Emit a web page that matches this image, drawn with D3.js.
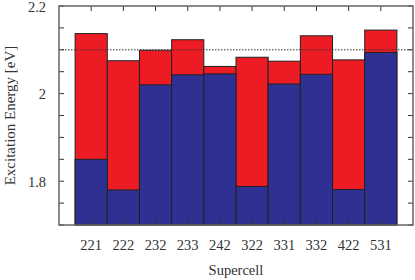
<!DOCTYPE html>
<html>
<head>
<meta charset="utf-8">
<script src="https://cdn.jsdelivr.net/npm/d3@7.9.0/dist/d3.min.js"></script>
<style>
  body { margin: 0; background: #fff; }
  svg text { font-family: "Liberation Serif", "DejaVu Serif", serif; fill: #333; }
</style>
</head>
<body>
<div id="chart"></div>
<script>
// supercell labels and the two stacked levels (eV)
const cells = ['221', '222', '232', '233', '242', '322', '331', '332', '422', '531'];
const lower = [1.850, 1.780, 2.020, 2.043, 2.045, 1.788, 2.022, 2.044, 1.781, 2.094];
const upper = [2.137, 2.075, 2.099, 2.123, 2.062, 2.083, 2.074, 2.132, 2.077, 2.145];
const yMajor = [1.8, 2.0, 2.2];
const yMinor = [1.7, 1.75, 1.8, 1.85, 1.9, 1.95, 2.0, 2.05, 2.1, 2.15, 2.2];
const refLine = 2.1;

const W = 415, H = 280;
const m = { l: 59, r: 2, t: 6, b: 55 };

const svg = d3.select('#chart').append('svg').attr('width', W).attr('height', H);

const x = d3.scaleLinear().domain([-1, cells.length]).range([m.l, W - m.r]);
const y = d3.scaleLinear().domain([1.7, 2.2]).range([H - m.b, m.t]);

const g = svg.append('g');

// red (upper) bars first, blue drawn on top
g.selectAll('rect.up').data(cells).enter().append('rect')
  .attr('class', 'up')
  .attr('x', (d, i) => x(i - 0.5))
  .attr('width', x(1) - x(0))
  .attr('y', (d, i) => y(upper[i]))
  .attr('height', (d, i) => y(1.7) - y(upper[i]))
  .attr('fill', '#ed1c24').attr('stroke', '#222').attr('stroke-width', 1);

g.selectAll('rect.lo').data(cells).enter().append('rect')
  .attr('class', 'lo')
  .attr('x', (d, i) => x(i - 0.5))
  .attr('width', x(1) - x(0))
  .attr('y', (d, i) => y(lower[i]))
  .attr('height', (d, i) => y(1.7) - y(lower[i]))
  .attr('fill', '#2e3192').attr('stroke', '#222').attr('stroke-width', 1);

// dotted reference line
g.append('line')
  .attr('x1', x(-1)).attr('x2', x(cells.length))
  .attr('y1', y(refLine)).attr('y2', y(refLine))
  .attr('stroke', '#333').attr('stroke-width', 1).attr('stroke-dasharray', '1.5,1.5');

// ticks (inside, on all four sides)
const tk = svg.append('g').attr('stroke', '#333').attr('stroke-width', 1);
yMinor.forEach(v => {
  tk.append('line').attr('x1', x(-1)).attr('x2', x(-1) + 5).attr('y1', y(v)).attr('y2', y(v));
  tk.append('line').attr('x1', x(cells.length)).attr('x2', x(cells.length) - 5).attr('y1', y(v)).attr('y2', y(v));
});
cells.forEach((c, i) => {
  tk.append('line').attr('x1', x(i)).attr('x2', x(i)).attr('y1', y(1.7)).attr('y2', y(1.7) - 5);
  tk.append('line').attr('x1', x(i)).attr('x2', x(i)).attr('y1', y(2.2)).attr('y2', y(2.2) + 5);
});

// frame
svg.append('rect')
  .attr('x', x(-1)).attr('y', y(2.2))
  .attr('width', x(cells.length) - x(-1)).attr('height', y(1.7) - y(2.2))
  .attr('fill', 'none').attr('stroke', '#666').attr('stroke-width', 1.5);

// tick labels
svg.selectAll('text.yl').data(yMajor).enter().append('text')
  .attr('x', 46).attr('y', d => y(d) + 5.5)
  .attr('text-anchor', 'end').attr('font-size', 14.5)
  .text(d => d3.format('~g')(d));

svg.selectAll('text.xl').data(cells).enter().append('text')
  .attr('x', (d, i) => x(i)).attr('y', 250)
  .attr('text-anchor', 'middle').attr('font-size', 14.5)
  .text(d => d);

// axis titles
svg.append('text')
  .attr('x', (x(-1) + x(cells.length)) / 2).attr('y', 275)
  .attr('text-anchor', 'middle').attr('font-size', 14.5)
  .text('Supercell');

svg.append('text')
  .attr('transform', `translate(15,${(y(1.7) + y(2.2)) / 2}) rotate(-90)`)
  .attr('text-anchor', 'middle').attr('font-size', 15)
  .text('Excitation Energy [eV]');
</script>
</body>
</html>
